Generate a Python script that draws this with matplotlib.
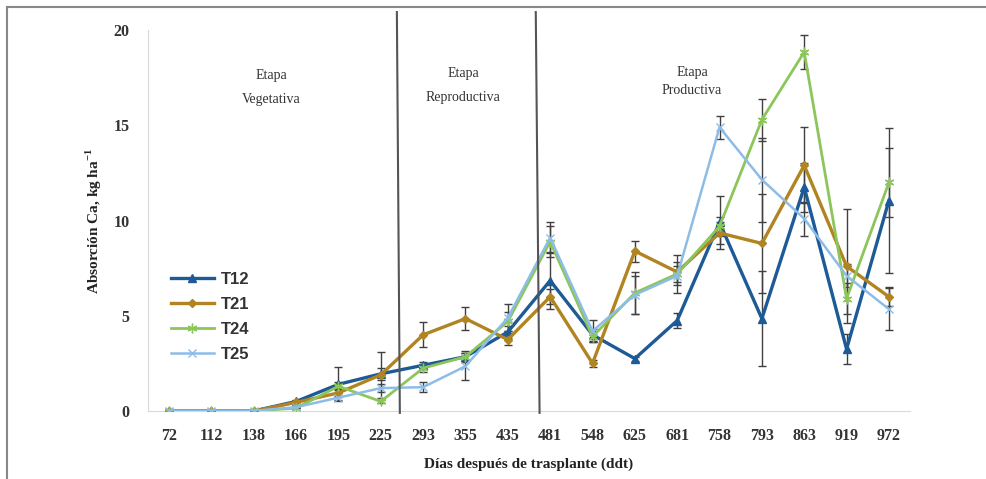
import matplotlib
matplotlib.use("Agg")
import matplotlib.pyplot as plt
import numpy as np

ddt = ["72", "112", "138", "166", "195", "225", "293", "355", "435",
       "481", "548", "625", "681", "758", "793", "863", "919", "972"]

t12 = [0, 0, 0, 0.5, 1.4, 1.95, 2.4, 2.85, 4.15, 6.85, 4.0, 2.75, 4.75, 9.9, 4.85, 11.75, 3.25, 11.05]
t21 = [0, 0, 0, 0.45, 0.95, 1.9, 4.0, 4.85, 3.75, 6.0, 2.5, 8.4, 7.3, 9.35, 8.8, 12.9, 7.6, 6.0]
t24 = [0, 0, 0, 0.15, 1.3, 0.5, 2.25, 2.85, 4.7, 8.9, 3.9, 6.2, 7.2, 9.7, 15.3, 18.85, 5.9, 12.0]
t25 = [0, 0, 0, 0.2, 0.7, 1.2, 1.25, 2.35, 4.9, 9.1, 4.2, 6.1, 7.1, 14.9, 12.15, 10.1, 7.1, 5.35]

err12 = [0, 0, 0, 0.1, 0.9, 0.3, 0.15, 0.2, 0.3, 1.5, 0.3, 0.1, 0.4, 1.4, 2.5, 1.3, 0.8, 3.8]
err21 = [0, 0, 0, 0.1, 0.2, 1.2, 0.65, 0.6, 0.3, 0.4, 0.2, 0.55, 0.5, 0.6, 2.6, 2.0, 3.0, 0.5]
err24 = [0, 0, 0, 0, 0.2, 0.1, 0.2, 0.3, 0.5, 0.8, 0.3, 1.1, 1.0, 0.5, 1.1, 0.9, 0.8, 1.8]
err25 = [0, 0, 0, 0, 0.1, 0.2, 0.25, 0.7, 0.7, 0.8, 0.6, 1.0, 0.5, 0.6, 2.2, 0.9, 0.6, 1.1]

# limites entre etapas (posicion en categorias: arriba, abajo)
stage_bounds = [(5.38, 5.45), (8.66, 8.75)]
stage_labels = ["Etapa\nVegetativa", "Etapa\nReproductiva", "Etapa\nProductiva"]
stage_pos = [(2.42, 17.0), (6.95, 17.1), (12.35, 17.3)]
stage_spacing = [2.1, 2.1, 1.55]

fig = plt.figure(figsize=(9.86, 4.79), dpi=100)
ax = fig.add_axes([0.150, 0.142, 0.773, 0.795])

x = np.arange(len(ddt))
series = [
    ("T12", t12, err12, "#1d5a96", "^", 6, 2.4),
    ("T21", t21, err21, "#b08420", "D", 4.5, 2.4),
    ("T24", t24, err24, "#8cc65a", (6, 2, 0), 7, 2.0),
    ("T25", t25, err25, "#8dbde6", "x", 6, 1.8),
]
for name, vals, err, col, mk, ms, lw in series:
    ax.errorbar(x, vals, yerr=err, fmt="none", ecolor="#404040",
                elinewidth=1, capsize=3, capthick=1, zorder=2)
for name, vals, err, col, mk, ms, lw in series:
    ax.plot(x, vals, color=col, marker=mk, markersize=ms, linewidth=lw,
            markeredgecolor=col, label=name, zorder=3)

for top, bot in stage_bounds:
    ax.plot([top, bot], [20.95, -0.1], color="#555555", linewidth=1.5,
            clip_on=False, zorder=4)

for lab, (lx, ly), ls in zip(stage_labels, stage_pos, stage_spacing):
    ax.text(lx, ly, lab, ha="center", va="center", fontsize=10,
            family="Liberation Serif", color="#333333", linespacing=ls)

ax.set_xlim(-0.5, 17.5)
ax.set_ylim(0, 20)
ax.set_xticks(x)
ax.set_xticklabels(ddt)
ax.set_yticks([0, 5, 10, 15, 20])
ax.tick_params(length=0, pad=12, labelsize=11.5, colors="#333333")
for lbl in ax.get_xticklabels() + ax.get_yticklabels():
    lbl.set_family("Liberation Serif")
    lbl.set_fontweight("bold")
ax.tick_params(axis="y", pad=13)

for s in ["top", "right"]:
    ax.spines[s].set_visible(False)
ax.spines["left"].set_color("#d9d9d9")
ax.spines["bottom"].set_color("#d9d9d9")

ax.set_ylabel("Absorción Ca, kg ha$^{\\mathregular{-1}}$", family="Liberation Serif",
              fontweight="bold", fontsize=11, color="#222222", labelpad=7)
ax.set_xlabel("Días después de trasplante (ddt)", family="Liberation Serif",
              fontweight="bold", fontsize=11, color="#222222", labelpad=10)

leg = ax.legend(loc="upper left", bbox_to_anchor=(0.01, 0.405), frameon=False,
                handlelength=2.6, labelspacing=0.6, handletextpad=0.4,
                prop={"family": "Liberation Sans", "weight": "bold", "size": 12})
for t in leg.get_texts():
    t.set_color("#333333")

# marco de la figura
fig.add_artist(plt.Line2D([7 / 986, 1], [1 - 7 / 479, 1 - 7 / 479],
                          transform=fig.transFigure, color="#888888", linewidth=1.5))
fig.add_artist(plt.Line2D([7 / 986, 7 / 986], [0, 1 - 7 / 479],
                          transform=fig.transFigure, color="#888888", linewidth=1.5))

fig.savefig("out.png", dpi=100)
